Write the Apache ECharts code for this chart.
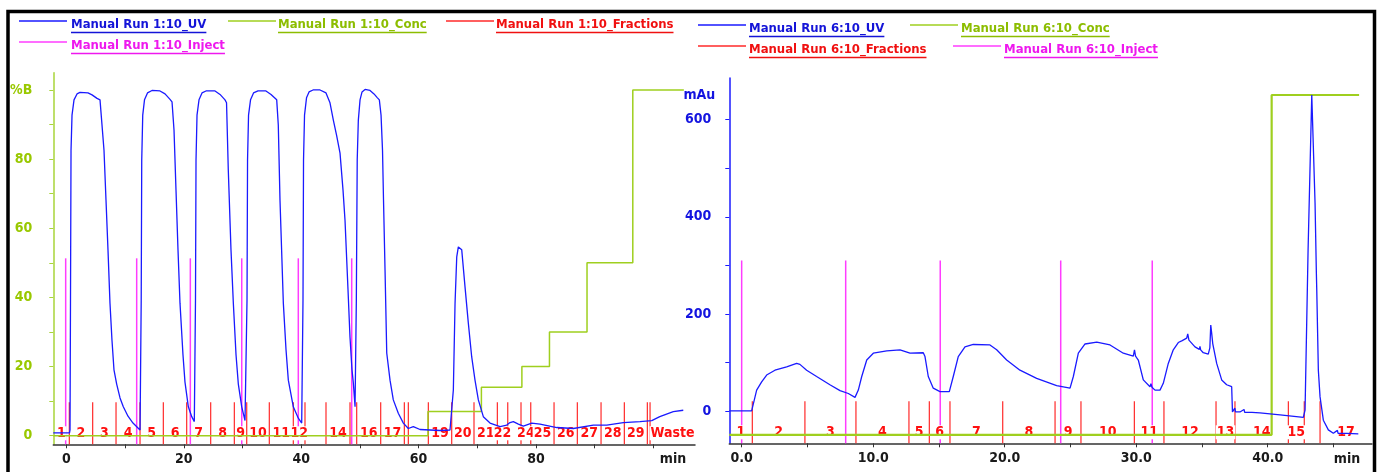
<!DOCTYPE html>
<html>
<head>
<meta charset="utf-8">
<script src="https://cdn.jsdelivr.net/npm/echarts@6/dist/echarts.min.js"></script>
<style>
  html, body { margin: 0; padding: 0; background: #fff; }
  #chart { width: 1381px; height: 472px; }
</style>
</head>
<body>
<div id="chart"></div>
<script>
// ---------- Run 1:10 (left chromatogram) ----------
// UV trace [min, mAu]
const run1UV = [
  [-2.25,0],[0.51,0],[0.60,6],[0.68,269],[0.77,573],[0.94,644],[1.28,675],[1.79,687],[2.30,690],[3.66,689],[4.35,685],[5.20,678],[5.71,675],[6.00,671],[6.39,573],[6.73,472],[7.07,371],[7.41,263],[7.75,188],[8.09,128],[8.55,99],[9.12,71],[9.68,53],[10.48,34],[11.33,20],[12.53,6],
  [12.64,6],[12.73,269],[12.82,553],[12.99,644],[13.29,675],[13.80,689],[14.57,694],[15.93,693],[16.79,687],[17.64,676],[17.98,671],[18.32,614],[18.66,492],[19.00,371],[19.34,263],[19.85,158],[20.19,103],[20.76,53],[21.34,33],[21.78,23],
  [21.90,24],[21.98,269],[22.07,553],[22.24,644],[22.58,675],[23.09,689],[23.77,693],[25.31,693],[26.16,686],[27.01,675],[27.27,669],[27.57,533],[28.03,371],[28.43,263],[28.89,158],[29.28,99],[29.86,53],[30.42,25],
  [30.67,28],[30.76,269],[30.85,553],[31.02,644],[31.36,675],[31.87,689],[32.63,693],[33.99,693],[34.85,686],[35.82,675],[36.09,624],[36.38,472],[36.95,263],[37.41,168],[37.80,107],[38.65,53],[39.50,30],[40.08,20],
  [40.22,20],[40.30,269],[40.39,553],[40.56,644],[40.90,679],[41.33,691],[42.01,695],[43.20,695],[44.22,689],[44.90,669],[45.47,634],[46.01,604],[46.61,567],[47.12,492],[47.46,431],[47.97,290],[48.31,194],[48.65,128],[48.88,101],[49.17,53],
  [49.28,55],[49.39,269],[49.54,553],[49.73,634],[50.02,675],[50.36,691],[50.87,696],[51.72,694],[52.40,687],[52.91,680],[53.31,675],[53.60,644],[53.85,573],[54.02,472],[54.28,330],[54.57,162],[55.13,107],[55.69,67],[56.54,40],[57.40,20],[58.25,9],[59.10,13],[60.24,7],[63.65,5],[65.35,6],[65.64,10],
  [65.92,87],[66.21,263],[66.50,357],[66.77,377],[67.06,379],[67.35,371],[67.91,296],[68.47,223],[69.05,154],[69.61,107],[70.18,67],[71.03,33],[72.17,20],[73.88,13],[75.02,16],[75.58,21],[76.14,23],[77.00,18],[77.85,14],[79.28,20],[80.69,18],[83.54,11],[86.37,9],[89.78,16],[92.06,16],[94.89,21],[97.73,23],[99.73,25],[101.1,33],[103.4,43],[105.1,46]
];
// Concentration %B, value holds from each point until the next
const run1Conc = [[-2.25,0],[61.6,7],[70.7,14],[77.6,20],[82.3,30],[88.7,50],[96.5,100],[105.2,100]];
// Fraction boundaries (min) and fraction names ('' = not labelled)
const run1FracCuts = [0.48,4.46,8.44,12.53,16.50,20.48,24.57,28.60,30.71,34.56,38.65,40.64,44.22,48.31,49.45,53.54,57.57,58.25,61.66,65.64,69.44,73.42,75.19,77.45,79.11,83.08,87.05,91.09,95.06,98.98,99.44];
const run1FracNames = ['1','2','3','4','5','6','7','8','9','10','11','12','','14','','16','17','','','19','20','21','22','','24','25','26','27','28','29','','Waste'];
// Injection marks (min)
const run1Inject = [-0.14,11.96,21.10,29.86,39.50,48.60];
const run1XTicks = [0,10,20,30,40,50,60,70,80,90,100];
const run1XLabels = [0,20,40,60,80];

// ---------- Run 6:10 (right chromatogram) ----------
const run6UV = [
  [-0.94,0],[0.76,0],[0.81,2],[1.14,43],[1.52,60],[1.90,74],[2.53,84],[3.42,91],[4.18,98],[4.43,96],[4.94,84],[5.70,71],[6.71,54],[7.48,42],[8.11,36],[8.62,28],[8.87,43],[9.13,71],[9.51,105],[10.01,119],[11.03,124],[12.04,126],[12.80,119],[13.81,120],[13.94,112],[14.19,71],[14.57,47],[15.08,40],[15.79,40],[16.09,71],[16.47,112],[16.98,132],[17.61,137],[18.88,136],[19.39,126],[20.15,105],[21.16,84],[22.43,67],[23.95,52],[24.97,47],[25.22,71],[25.60,119],[26.11,138],[27.00,142],[28.01,136],[29.02,119],[29.78,113],[29.87,126],[29.95,113],[30.16,105],[30.54,64],[31.05,50],[31.12,56],[31.20,49],[31.43,43],[31.81,43],[32.06,57],[32.44,98],[32.82,126],[33.20,141],[33.50,145],[33.84,150],[33.92,159],[34.01,146],[34.47,132],[34.8,127],[34.85,133],[34.9,126],[35.10,120],[35.48,117],[35.60,130],[35.67,177],[35.74,160],[35.82,139],[36.12,98],[36.50,64],[36.88,54],[37.26,50],[37.32,-2],[37.50,6],[37.55,-2],[37.89,-2],[38.20,3],[38.25,-3],[38.80,-3],[39.41,-4],[40.94,-8],[42.71,-13],[42.84,2],[43.07,332],[43.35,651],[43.47,647],[43.60,428],[43.70,284],[43.73,249],[43.85,84],[43.98,29],[44.23,-19],[44.61,-39],[44.99,-46],[45.30,-40],[45.35,-46],[46.01,-46],[46.89,-47]
];
const run6Conc = [[-0.94,0],[40.3,100],[46.95,100]];
const run6FracCuts = [0.81,4.81,8.69,12.72,14.27,15.84,19.85,23.83,25.80,29.86,32.11,36.07,37.51,41.57,42.78,43.98];
const run6FracNames = ['1','2','3','4','5','6','7','8','9','10','11','12','13','14','15','','17'];
const run6Inject = [0.0,7.91,15.10,24.26,31.22];
const run6XTicks = [0,5,10,15,20,25,30,35,40,45];
const run6XLabels = [0,10,20,30,40];

// Shared axis ticks
const pctTicks = [0,10,20,30,40,50,60,70,80,90,100];
const pctLabels = [0,20,40,60,80,100];
const mAuTicks = [0,100,200,300,400,500,600];
const mAuLabels = [0,200,400,600];

// ---------- styling ----------
const FONT = '"DejaVu Sans Condensed", "DejaVu Sans", sans-serif';
const C_UV = '#1a1aff', C_CONC = '#9fcf1f', C_FRAC = '#ff2a2a', C_INJ = '#ff3cff';
const FRAC_H = 42;       // fraction mark height, px
const INJ_LEVEL = 51.3;  // injection mark top, on the %B scale

function injectSeries(times, xi, yi) {
  return {
    type: 'custom', xAxisIndex: xi, yAxisIndex: yi, z: 1, silent: true,
    data: times.map(t => [t, 0]),
    renderItem(params, api) {
      const cs = params.coordSys;
      const p = api.coord([api.value(0), INJ_LEVEL]);
      return { type: 'line', shape: { x1: p[0], y1: cs.y + cs.height, x2: p[0], y2: p[1] },
               style: { stroke: C_INJ, lineWidth: 1.5 } };
    }
  };
}
function fracLineSeries(cuts, xi, yi) {
  return {
    type: 'custom', xAxisIndex: xi, yAxisIndex: yi, z: 1, silent: true,
    data: cuts.map(t => [t, 0]),
    renderItem(params, api) {
      const cs = params.coordSys;
      const x = api.coord([api.value(0), 0])[0];
      const yb = cs.y + cs.height;
      return { type: 'line', shape: { x1: x, y1: yb, x2: x, y2: yb - FRAC_H },
               style: { stroke: C_FRAC, lineWidth: 1.2 } };
    }
  };
}
function fracLabelSeries(cuts, names, xi, yi) {
  return {
    type: 'custom', xAxisIndex: xi, yAxisIndex: yi, z: 2, silent: true,
    data: names.map((n, i) => [i < cuts.length ? cuts[i] : cuts[cuts.length - 1], 0]),
    renderItem(params, api) {
      const i = params.dataIndex;
      const name = names[i];
      if (!name) return null;
      const cs = params.coordSys;
      const x0 = i === 0 ? cs.x : api.coord([cuts[i - 1], 0])[0];
      const x1 = i === cuts.length ? cs.x + cs.width : api.coord([cuts[i], 0])[0];
      return { type: 'text', x: (x0 + x1) / 2, y: cs.y + cs.height - 11,
               style: { text: name, fill: '#ff1010', font: 'bold 14px ' + FONT,
                        align: 'center', verticalAlign: 'middle',
                        backgroundColor: '#ffffff', padding: [0, 1] } };
    }
  };
}

const tickLabel = { fontFamily: FONT, fontWeight: 'bold', fontSize: 14 };

// ---------- legends ----------
const legendFont = 'bold 13px ' + FONT;
const measure = document.createElement('canvas').getContext('2d');
measure.font = legendFont;
const legendItems = [
  // [text, line colour, text colour, line x, text x, text y]
  ['Manual Run 1:10_UV',        C_UV,   '#1414d8', 19,  71,  25],
  ['Manual Run 1:10_Conc',      C_CONC, '#8cbd00', 228, 278, 25],
  ['Manual Run 1:10_Fractions', C_FRAC, '#f01010', 446, 496, 25],
  ['Manual Run 1:10_Inject',    C_INJ,  '#ee18ee', 19,  71,  46],
  ['Manual Run 6:10_UV',        C_UV,   '#1414d8', 698, 749, 29],
  ['Manual Run 6:10_Conc',      C_CONC, '#8cbd00', 910, 961, 29],
  ['Manual Run 6:10_Fractions', C_FRAC, '#f01010', 698, 749, 50],
  ['Manual Run 6:10_Inject',    C_INJ,  '#ee18ee', 953, 1004, 50]
];
const graphics = [];
legendItems.forEach(([text, lc, tc, lx, tx, ty]) => {
  const w = measure.measureText(text).width;
  graphics.push({ type: 'line', shape: { x1: lx, y1: ty - 4, x2: lx + 48, y2: ty - 4 }, style: { stroke: lc, lineWidth: 1.5 } });
  graphics.push({ type: 'text', x: tx, y: ty, style: { text, fill: tc, font: legendFont, verticalAlign: 'middle' } });
  graphics.push({ type: 'line', shape: { x1: tx, y1: ty + 7.5, x2: tx + w, y2: ty + 7.5 }, style: { stroke: tc, lineWidth: 1.5 } });
});
// outer frame
graphics.push({ type: 'polyline', shape: { points: [[8, 472], [8, 11.5], [1374.5, 11.5], [1374.5, 472]] },
                style: { stroke: '#000', lineWidth: 3.5, fill: null } });

const chart = echarts.init(document.getElementById('chart'), null, { renderer: 'canvas' });
chart.setOption({
  animation: false,
  backgroundColor: '#ffffff',
  graphic: graphics,
  grid: [
    { left: 53.3, top: 72.7, width: 641.7, height: 371.6 },
    { left: 729.3, top: 78, width: 642.7, height: 365.3 }
  ],
  xAxis: [
    { gridIndex: 0, type: 'value', min: -2.25, max: 107.1,
      axisLine: { onZero: false, lineStyle: { color: '#333', width: 1.5 } },
      axisTick: { customValues: run1XTicks, length: 4, lineStyle: { color: '#333' } },
      axisLabel: Object.assign({ customValues: run1XLabels, margin: 8, color: '#1a1a1a' }, tickLabel),
      splitLine: { show: false },
      name: 'min', nameLocation: 'end', nameGap: -22,
      nameTextStyle: Object.assign({ color: '#1a1a1a', align: 'center', verticalAlign: 'top', padding: [8, 0, 0, 0] }, tickLabel) },
    { gridIndex: 1, type: 'value', min: -0.94, max: 47.93,
      axisLine: { onZero: false, lineStyle: { color: '#333', width: 1.5 } },
      axisTick: { customValues: run6XTicks, length: 4, lineStyle: { color: '#333' } },
      axisLabel: Object.assign({ customValues: run6XLabels, margin: 8, color: '#1a1a1a', formatter: v => v.toFixed(1) }, tickLabel),
      splitLine: { show: false },
      name: 'min', nameLocation: 'end', nameGap: -25,
      nameTextStyle: Object.assign({ color: '#1a1a1a', align: 'center', verticalAlign: 'top', padding: [9, 0, 0, 0] }, tickLabel) }
  ],
  yAxis: [
    { gridIndex: 0, type: 'value', min: -2.5, max: 105, position: 'left',
      axisLine: { show: true, onZero: false, lineStyle: { color: '#a8d43a', width: 1.5 } },
      axisTick: { show: true, customValues: pctTicks, length: 4, lineStyle: { color: '#a8d43a' } },
      axisLabel: Object.assign({ customValues: pctLabels, margin: 21, color: '#99c800',
                                 formatter: v => v === 100 ? '%B' : String(v) }, tickLabel),
      splitLine: { show: false } },
    { gridIndex: 0, type: 'value', min: -23, max: 730, show: false },
    { gridIndex: 1, type: 'value', min: -66.6, max: 686, position: 'left',
      axisLine: { show: true, onZero: false, lineStyle: { color: C_UV, width: 1.5 } },
      axisTick: { show: true, customValues: mAuTicks, length: 4, lineStyle: { color: C_UV } },
      axisLabel: Object.assign({ customValues: mAuLabels, margin: 18, color: '#1414e0' }, tickLabel),
      splitLine: { show: false },
      name: '{u|mAu}', nameLocation: 'end', nameGap: -17,
      nameTextStyle: Object.assign({ color: '#1414e0', align: 'right', verticalAlign: 'middle',
                                     rich: { u: Object.assign({ color: '#1414e0', padding: [0, 14, 0, 0] }, tickLabel) } }, tickLabel) },
    { gridIndex: 1, type: 'value', min: -2.5, max: 105, show: false }
  ],
  series: [
    injectSeries(run1Inject, 0, 0),
    fracLineSeries(run1FracCuts, 0, 0),
    fracLabelSeries(run1FracCuts, run1FracNames, 0, 0),
    { type: 'line', name: 'Manual Run 1:10_Conc', xAxisIndex: 0, yAxisIndex: 0, data: run1Conc, step: 'end',
      showSymbol: false, lineStyle: { color: C_CONC, width: 1.5 }, z: 3, silent: true },
    { type: 'line', name: 'Manual Run 1:10_UV', xAxisIndex: 0, yAxisIndex: 1, data: run1UV,
      showSymbol: false, lineStyle: { color: C_UV, width: 1.3 }, z: 4, silent: true },

    injectSeries(run6Inject, 1, 3),
    fracLineSeries(run6FracCuts, 1, 3),
    fracLabelSeries(run6FracCuts, run6FracNames, 1, 3),
    { type: 'line', name: 'Manual Run 6:10_Conc', xAxisIndex: 1, yAxisIndex: 3, data: run6Conc, step: 'end',
      showSymbol: false, lineStyle: { color: C_CONC, width: 2.2 }, z: 3, silent: true },
    { type: 'line', name: 'Manual Run 6:10_UV', xAxisIndex: 1, yAxisIndex: 2, data: run6UV,
      showSymbol: false, lineStyle: { color: C_UV, width: 1.3 }, z: 4, silent: true }
  ]
});
</script>
</body>
</html>
